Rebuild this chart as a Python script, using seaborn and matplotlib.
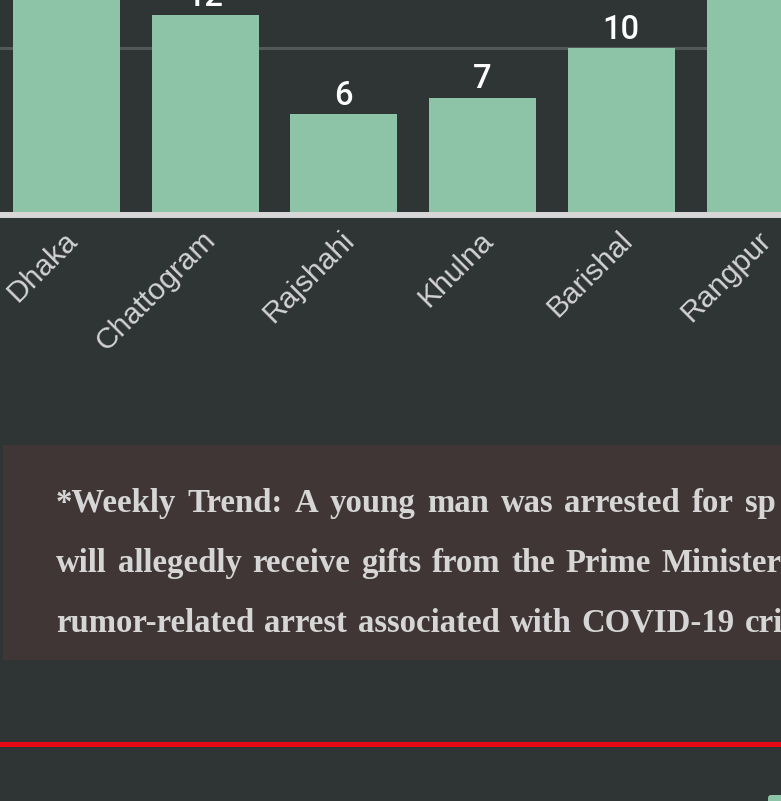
import matplotlib
matplotlib.use('Agg')
import matplotlib.pyplot as plt
import matplotlib.transforms as mtransforms
from matplotlib.patches import Rectangle, FancyBboxPatch
import seaborn as sns
import pandas as pd

# data (Dhaka and Rangpur run past the top of the crop)
divisions = ['Dhaka', 'Chattogram', 'Rajshahi', 'Khulna', 'Barishal', 'Rangpur']
arrests = [25, 12, 6, 7, 10, 15]
note_lines = [
    '*Weekly Trend: A young man was arrested for sp',
    'will allegedly receive gifts from the Prime Minister',
    'rumor-related arrest associated with COVID-19 cri',
]
# x of the last visible word in each justified line (px)
note_last_x = [745, 662, 745]

bg = '#2f3435'
bar_color = '#8dc4a8'

sns.set_style('dark', {'axes.facecolor': bg, 'figure.facecolor': bg})
plt.rcParams['font.family'] = ['Liberation Sans', 'DejaVu Sans']

W, H = 781, 801
fig = plt.figure(figsize=(W / 100, H / 100), dpi=100)
fig.patch.set_facecolor(bg)

# chart area: baseline at 213 px from top, figure top = 12.91 units
ax = fig.add_axes([0, (H - 213) / H, 1, 213 / H])
df = pd.DataFrame({'division': divisions, 'arrests': arrests})
sns.barplot(data=df, x='division', y='arrests', color=bar_color, saturation=1,
            width=0.77, linewidth=0, edgecolor='none', ax=ax)
ax.set_facecolor(bg)
ax.set_xlabel('')
ax.set_ylabel('')
for s in ax.spines.values():
    s.set_visible(False)

ax.set_yticks([10, 20, 30])
ax.set_xlim(-0.479, 5.151)
ax.set_ylim(0, 12.91)
ax.yaxis.grid(True, color='#535859', lw=2.2)
ax.set_axisbelow(True)
ax.tick_params(axis='y', left=False, labelleft=False)
ax.axhline(-0.12, color='#d7d7d7', lw=4.3, clip_on=False, zorder=3)

for c in ax.containers:
    ax.bar_label(c, padding=1.5, color='white', fontsize=23.5, fontweight=500,
                 family=['Roboto', 'DejaVu Sans'])

ax.tick_params(axis='x', length=0, pad=16.5, labelsize=21.5, labelcolor='#d3d3d3')
shift = mtransforms.ScaledTranslation(0.065, 0, fig.dpi_scale_trans)
for lbl in ax.get_xticklabels():
    lbl.set_rotation(45)
    lbl.set_ha('right')
    lbl.set_va('center')
    lbl.set_rotation_mode('anchor')
    lbl.set_transform(lbl.get_transform() + shift)

# note box
fig.add_artist(Rectangle((3 / W, 1 - 660 / H), 1, (660 - 445) / H,
                         transform=fig.transFigure, facecolor='#403636',
                         edgecolor='none', zorder=0))

# justified note text: spread the words so the last one lands where it does
renderer = fig.canvas.get_renderer()
note_style = dict(color='#d6d6d6', fontsize=23.6, fontweight='bold',
                  va='baseline', ha='left',
                  family=['Liberation Serif', 'DejaVu Serif'])
for i, line in enumerate(note_lines):
    words = line.split(' ')
    y = 1 - (512 + 60 * i) / H
    arts = [fig.text(0, y, w, **note_style) for w in words]
    widths = [a.get_window_extent(renderer).width for a in arts]
    x0 = 56
    gap = (note_last_x[i] - x0 - sum(widths[:-1])) / (len(words) - 1)
    x = x0
    for a, w in zip(arts, widths):
        a.set_x(x / W)
        x += w + gap

# red rule
fig.add_artist(Rectangle((0, 1 - 747 / H), 1, 5 / H, transform=fig.transFigure,
                         facecolor='#e50914', edgecolor='none'))
fig.add_artist(FancyBboxPatch((768 / W, 1 - 812 / H), 30 / W, 17 / H,
                              boxstyle='round,pad=0,rounding_size=0.004',
                              transform=fig.transFigure, facecolor=bar_color,
                              edgecolor='none'))

fig.savefig('out.png', dpi=100, facecolor=bg)
